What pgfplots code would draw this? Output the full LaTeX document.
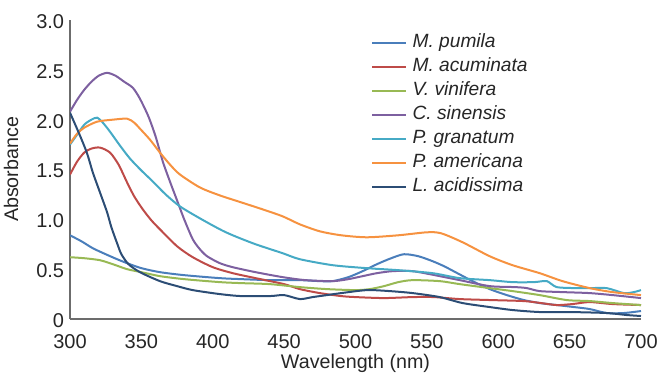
\documentclass[border=0pt]{standalone}
\usepackage{pgfplots}
\pgfplotsset{compat=1.18}
\usepackage{fontspec}
\setmainfont{Liberation Sans}
\definecolor{cPum}{HTML}{4A7EBB}
\definecolor{cAcu}{HTML}{BE4B48}
\definecolor{cVin}{HTML}{98B954}
\definecolor{cSin}{HTML}{7D60A0}
\definecolor{cGra}{HTML}{46AAC5}
\definecolor{cAme}{HTML}{F69240}
\definecolor{cAci}{HTML}{2C4D75}
\begin{document}
\begin{tikzpicture}
\begin{axis}[
  name=ax,
  scale only axis,
  width=342.6pt, height=179.4pt,
  xmin=300, xmax=700, ymin=0, ymax=3,
  axis x line*=bottom, axis y line*=left,
  axis line style={draw=gray!85!black, line width=0.9pt},
  major tick length=0pt,
  xtick={300,350,...,700},
  ytick={0,0.5,1,1.5,2,2.5,3},
  yticklabels={0,0.5,1.0,1.5,2.0,2.5,3.0},
  /pgf/number format/assume math mode=true,
  /pgf/number format/1000 sep={},
  tick label style={font=\fontsize{12pt}{14pt}\selectfont, text=black!85},
  xticklabel style={yshift=-6pt},
  yticklabel style={yshift=-1pt},
  xlabel={Wavelength (nm)},
  ylabel={Absorbance},
  label style={font=\fontsize{11.8pt}{13pt}\selectfont, text=black!85},
  xlabel style={at={(axis description cs:0.5,-0.148)}, anchor=center},
  ylabel style={at={(axis description cs:-0.103,0.5)}, anchor=center, rotate=0},
  every axis plot/.append style={line width=1.2pt, no markers, smooth, tension=0.45},
  legend style={draw=none, fill=none, at={(axis description cs:0.527,0.949)}, anchor=north west,
    inner sep=0pt, row sep=5.4pt,
    nodes={inner xsep=3.5pt, inner ysep=0pt, text height=7pt, text depth=2pt},
    font=\fontsize{11.5pt}{13pt}\selectfont, text=black!85},
  legend cell align=left,
  legend image code/.code={\draw[#1, line width=1.3pt, sharp plot] (0pt,0pt) -- (20pt,0pt);},
]
\addplot[cPum] coordinates {(300,0.84)(308,0.78)(316,0.71)(325,0.65)(333,0.60)(340,0.56)(350,0.51)(363,0.47)(380,0.44)(405,0.41)(420,0.40)(440,0.39)(461,0.39)(475,0.38)(484,0.38)(495,0.42)(505,0.48)(515,0.55)(525,0.61)(534,0.65)(544,0.63)(554,0.58)(562,0.53)(570,0.47)(582,0.38)(594,0.30)(606,0.24)(618,0.19)(629,0.16)(641,0.14)(653,0.12)(664,0.10)(676,0.06)(688,0.06)(700,0.08)};
\addlegendentry{\textit{M. pumila}}
\addplot[cAcu] coordinates {(300,1.45)(305,1.58)(310,1.67)(315,1.71)(321,1.72)(328,1.67)(334,1.55)(340,1.37)(345,1.23)(351,1.10)(357,0.99)(363,0.90)(375,0.73)(386,0.62)(400,0.52)(414,0.46)(430,0.41)(450,0.35)(461,0.30)(475,0.26)(490,0.23)(500,0.22)(520,0.21)(540,0.22)(555,0.22)(573,0.20)(595,0.19)(618,0.18)(630,0.16)(641,0.14)(652,0.15)(664,0.17)(680,0.15)(700,0.14)};
\addlegendentry{\textit{M. acuminata}}
\addplot[cVin] coordinates {(300,0.62)(310,0.61)(321,0.59)(330,0.55)(340,0.50)(350,0.47)(363,0.43)(380,0.40)(405,0.37)(420,0.36)(440,0.35)(461,0.32)(480,0.30)(500,0.29)(510,0.30)(520,0.33)(530,0.37)(540,0.39)(559,0.38)(573,0.35)(594,0.31)(610,0.28)(629,0.24)(648,0.19)(664,0.18)(680,0.16)(700,0.14)};
\addlegendentry{\textit{V. vinifera}}
\addplot[cSin] coordinates {(300,2.08)(305,2.20)(310,2.30)(315,2.38)(320,2.44)(326,2.47)(332,2.44)(338,2.38)(344,2.32)(349,2.21)(355,2.03)(360,1.83)(365,1.58)(370,1.38)(375,1.19)(380,1.00)(386,0.80)(391,0.70)(396,0.63)(405,0.56)(414,0.52)(430,0.47)(449,0.42)(465,0.39)(484,0.38)(495,0.40)(505,0.43)(515,0.46)(526,0.48)(540,0.48)(559,0.43)(573,0.39)(594,0.33)(612,0.32)(620,0.31)(629,0.28)(645,0.27)(664,0.26)(680,0.24)(700,0.21)};
\addlegendentry{\textit{C. sinensis}}
\addplot[cGra] coordinates {(300,1.75)(305,1.85)(310,1.95)(315,2.00)(319,2.02)(323,1.97)(328,1.88)(335,1.74)(342,1.61)(350,1.49)(358,1.38)(367,1.25)(377,1.13)(391,1.01)(405,0.90)(414,0.84)(430,0.75)(449,0.66)(461,0.60)(484,0.54)(508,0.51)(530,0.49)(554,0.46)(573,0.41)(594,0.39)(610,0.37)(625,0.37)(634,0.38)(641,0.32)(655,0.31)(665,0.31)(676,0.31)(688,0.26)(695,0.27)(700,0.29)};
\addlegendentry{\textit{P. granatum}}
\addplot[cAme] coordinates {(300,1.76)(305,1.86)(310,1.92)(319,1.98)(330,2.00)(340,2.01)(345,1.97)(349,1.91)(356,1.80)(363,1.67)(370,1.55)(377,1.45)(391,1.32)(405,1.24)(420,1.17)(435,1.10)(449,1.03)(461,0.95)(475,0.88)(490,0.84)(508,0.82)(530,0.84)(550,0.87)(560,0.86)(575,0.77)(594,0.63)(610,0.54)(629,0.46)(645,0.38)(664,0.31)(680,0.27)(700,0.24)};
\addlegendentry{\textit{P. americana}}
\addplot[cAci] coordinates {(300,2.07)(307,1.84)(312,1.66)(316,1.47)(321,1.27)(326,1.07)(329,0.92)(333,0.76)(336,0.65)(341,0.55)(349,0.47)(363,0.38)(375,0.33)(386,0.29)(405,0.25)(420,0.23)(440,0.23)(450,0.24)(461,0.20)(470,0.22)(480,0.24)(490,0.26)(508,0.29)(524,0.28)(540,0.26)(559,0.22)(575,0.16)(594,0.12)(610,0.09)(629,0.07)(650,0.07)(676,0.06)(690,0.04)(700,0.03)};
\addlegendentry{\textit{L. acidissima}}
\end{axis}
\pgfresetboundingbox
\path (-42pt,-34.2pt) rectangle (355.8pt,191.4pt);
\end{tikzpicture}
\end{document}
